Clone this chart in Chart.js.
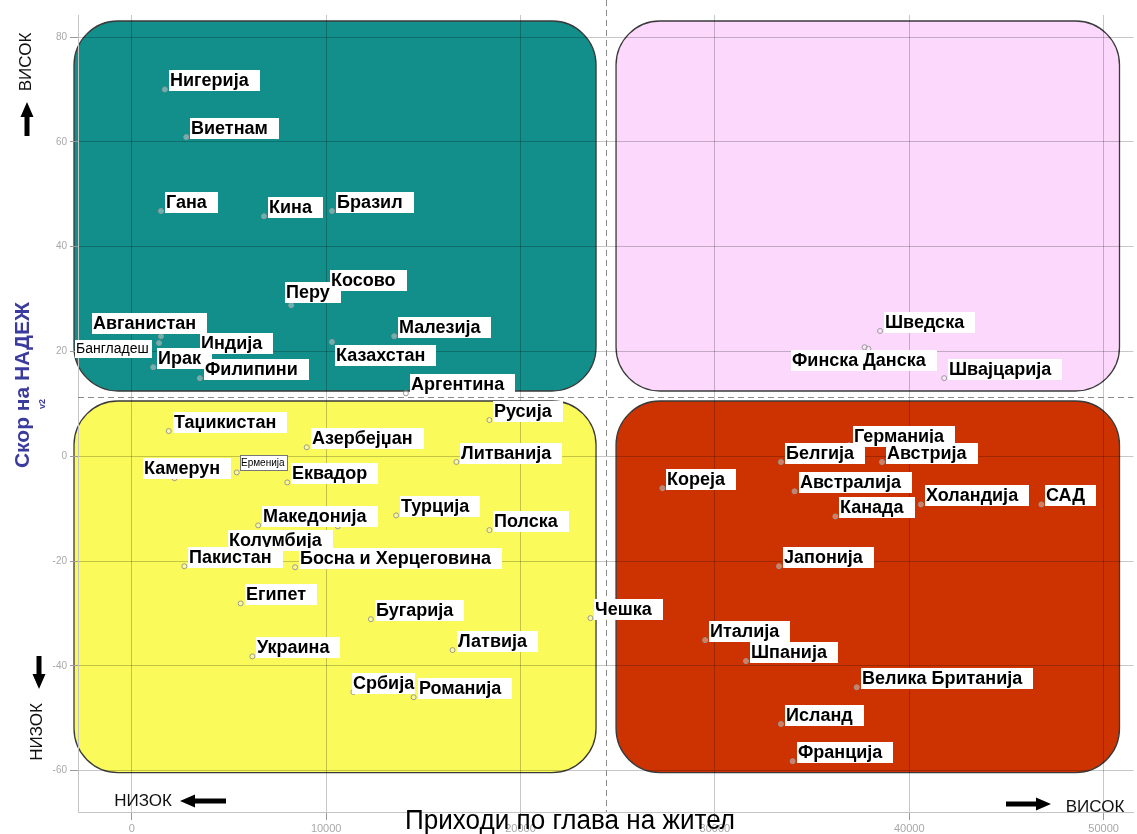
<!DOCTYPE html>
<html><head><meta charset="utf-8">
<script src="https://cdn.jsdelivr.net/npm/chart.js@4/dist/chart.umd.min.js"></script>
<style>html,body{margin:0;padding:0;background:#fff;overflow:hidden}</style>
</head><body>
<canvas id="c" width="1137" height="834"></canvas>
<script>
// ---- data ----
const countries = [
  'Нигерија','Виетнам','Гана','Кина','Бразил','Перу','Косово','Авганистан','Бангладеш','Индија',
  'Ирак','Филипини','Малезија','Казахстан','Аргентина',
  'Шведска','Финска','Данска','Швајцарија',
  'Таџикистан','Азербејџан','Русија','Литванија','Камерун','Ерменија','Еквадор','Турција',
  'Македонија','Колумбија','Полска','Пакистан','Босна и Херцеговина','Египет','Бугарија','Чешка',
  'Украина','Латвија','Србија','Романија',
  'Кореја','Германија','Белгија','Австрија','Австралија','Канада','Холандија','САД','Јапонија',
  'Италија','Шпанија','Велика Британија','Исланд','Франција'
];
const income = [
  1700, 2800, 1500, 6800, 10300, 8200, 10000, 1500, 1400, 3300,
  1100, 3500, 13500, 10300, 14100,
  38500, 37700, 37900, 41800,
  1900, 9000, 18400, 16700, 2200, 5400, 8000, 13600,
  6500, 10600, 18400, 2700, 8400, 5600, 12300, 23600,
  6200, 16500, 11400, 14500,
  27300, 36900, 33400, 38600, 34100, 36200, 40600, 46800, 33300,
  29500, 31600, 37300, 33400, 34000
];
const hope = [
  70.0, 60.9, 46.8, 45.8, 46.8, 28.8, 31.9, 22.9, 21.6, 19.8,
  17.0, 14.9, 22.9, 21.8, 12.0,
  23.9, 20.8, 20.5, 14.9,
  4.8, 1.7, 6.9, -1.1, -4.2, -3.1, -5.0, -11.3,
  -13.2, -13.4, -14.1, -21.0, -21.2, -28.1, -31.1, -30.9,
  -38.2, -37.0, -45.0, -46.0,
  -6.1, 2.1, -1.1, -1.1, -6.7, -11.5, -9.2, -9.2, -21.0,
  -35.1, -39.1, -44.1, -51.1, -58.2
];
const xTicks = [0, 10000, 20000, 30000, 40000, 50000];
const yTicks = [-60, -40, -20, 0, 20, 40, 60, 80];
const xDivider = 24400;
const yDivider = 11.3;
const xTitle = 'Приходи по глава на жител';
const yTitle = 'Скор на НАДЕЖ';
const highText = 'ВИСОК';
const lowText = 'НИЗОК';

// ---- label styling (offset of label box from its point) ----
const labelStyle = {
  'Перу': {off: [-6, -23]},
  'Казахстан': {off: [3, 3]},
  'Авганистан': {off: [-69, -23]},
  'Бангладеш': {off: [-84, -3], h: 18, font: '14px "Liberation Sans", Arial, sans-serif', pad: 4},
  'Камерун': {off: [-32, -20]},
  'Колумбија': {off: [-110, 4]},
  'Финска': {off: [-74, 3], pad: 6},
  'Данска': {off: [-6, 1]},
  'Ерменија': {off: [3, -17], h: 15, font: '10px "Liberation Sans", Arial, sans-serif', pad: 3, border: true},
  'Србија': {off: [-1, -19], pad: 2}
};

const LABEL_FONT = 'bold 18px "Liberation Sans", Arial, sans-serif';

function arrow(ctx, x0, y0, x1, y1, shaft, headW, headL) {
  const ang = Math.atan2(y1 - y0, x1 - x0);
  const len = Math.hypot(x1 - x0, y1 - y0);
  ctx.save();
  ctx.translate(x0, y0);
  ctx.rotate(ang);
  ctx.beginPath();
  ctx.moveTo(0, -shaft / 2);
  ctx.lineTo(len - headL, -shaft / 2);
  ctx.lineTo(len - headL, -headW / 2);
  ctx.lineTo(len, 0);
  ctx.lineTo(len - headL, headW / 2);
  ctx.lineTo(len - headL, shaft / 2);
  ctx.lineTo(0, shaft / 2);
  ctx.closePath();
  ctx.fillStyle = '#000';
  ctx.fill();
  ctx.restore();
}

const quadrantPlugin = {
  id: 'quadrants',
  beforeDraw(chart) {
    const {ctx, chartArea: a, scales: {x, y}} = chart;
    ctx.save();
    ctx.fillStyle = '#fff';
    ctx.fillRect(0, 0, chart.width, chart.height);
    const dx = x.getPixelForValue(xDivider), dy = y.getPixelForValue(yDivider);
    const L = a.left - 4, R = a.right - 14, T = a.top + 6, B = y.getPixelForValue(-60) + 2;
    const boxes = [
      [L, T, dx - 10, dy - 6, '#128e8b'],
      [dx + 10, T, R, dy - 6, '#fcd9fc'],
      [L, dy + 4, dx - 10, B, '#fafa5a'],
      [dx + 10, dy + 4, R, B, '#cc3300']
    ];
    for (const [x0, y0, x1, y1, c] of boxes) {
      ctx.beginPath();
      ctx.roundRect(x0, y0, x1 - x0, y1 - y0, 44);
      ctx.fillStyle = c;
      ctx.fill();
      ctx.lineWidth = 1.3;
      ctx.strokeStyle = '#3a3a3a';
      ctx.stroke();
    }
    ctx.restore();
  },
  beforeDatasetsDraw(chart) {
    const {ctx, chartArea: a, scales: {x, y}} = chart;
    const dx = Math.round(x.getPixelForValue(xDivider)) + 0.5;
    const dy = Math.round(y.getPixelForValue(yDivider)) + 0.5;
    ctx.save();
    ctx.strokeStyle = '#8a8a8a';
    ctx.lineWidth = 1;
    ctx.setLineDash([6, 4]);
    ctx.beginPath();
    ctx.moveTo(dx, 0); ctx.lineTo(dx, a.bottom);
    ctx.moveTo(a.left, dy); ctx.lineTo(a.right, dy);
    ctx.stroke();
    ctx.restore();
  },
  afterDatasetsDraw(chart) {
    const ctx = chart.ctx;
    const meta = chart.getDatasetMeta(0);
    ctx.save();
    meta.data.forEach((pt, i) => {
      const name = countries[i];
      const st = labelStyle[name] || {};
      ctx.font = st.font || LABEL_FONT;
      const w = ctx.measureText(name).width;
      const h = st.h || 21;
      const [ox, oy] = st.off || [4, -19];
      const bx = Math.round(pt.x + ox), by = Math.round(pt.y + oy);
      const bw = Math.round(w + (st.pad !== undefined ? st.pad : 12));
      ctx.fillStyle = '#fff';
      ctx.fillRect(bx, by, bw, h);
      if (st.border) {
        ctx.strokeStyle = '#777';
        ctx.lineWidth = 1;
        ctx.strokeRect(bx + 0.5, by + 0.5, bw, h);
      }
      ctx.fillStyle = '#000';
      ctx.textBaseline = 'alphabetic';
      ctx.textAlign = 'left';
      ctx.fillText(name, bx + 1, by + h - (h > 16 ? 5 : 4));
    });
    ctx.restore();
  },
  afterDraw(chart) {
    const ctx = chart.ctx;
    ctx.save();
    // y axis title
    ctx.save();
    ctx.translate(23, 385);
    ctx.rotate(-Math.PI / 2);
    ctx.font = 'bold 21px "Liberation Sans", Arial, sans-serif';
    ctx.fillStyle = '#3b3b9e';
    ctx.textAlign = 'center';
    ctx.textBaseline = 'middle';
    ctx.fillText(yTitle, 0, 0);
    ctx.restore();
    ctx.save();
    ctx.translate(43, 404);
    ctx.rotate(-Math.PI / 2);
    ctx.font = 'bold 9px "Liberation Sans", Arial, sans-serif';
    ctx.fillStyle = '#3b3b9e';
    ctx.textAlign = 'center';
    ctx.textBaseline = 'middle';
    ctx.fillText('v2', 0, 0);
    ctx.restore();
    // left side high / low
    ctx.font = '17px "Liberation Sans", Arial, sans-serif';
    ctx.fillStyle = '#111';
    ctx.textAlign = 'center';
    ctx.textBaseline = 'middle';
    ctx.save();
    ctx.translate(26, 62); ctx.rotate(-Math.PI / 2);
    ctx.fillText(highText, 0, 0);
    ctx.restore();
    arrow(ctx, 27, 136, 27, 102, 5, 13, 15);
    ctx.save();
    ctx.translate(37, 732); ctx.rotate(-Math.PI / 2);
    ctx.fillText(lowText, 0, 0);
    ctx.restore();
    arrow(ctx, 39, 656, 39, 689, 5, 13, 15);
    // bottom low / high
    ctx.fillText(lowText, 143, 801);
    arrow(ctx, 226, 801, 180, 801, 5, 13, 15);
    arrow(ctx, 1006, 804, 1051, 804, 5, 13, 15);
    ctx.fillText(highText, 1095, 807);
    // x axis title
    ctx.font = '27px "Liberation Sans", Arial, sans-serif';
    const tw = ctx.measureText(xTitle).width;
    ctx.save();
    ctx.translate(570, 829);
    ctx.scale(330 / tw, 1);
    ctx.fillStyle = '#000';
    ctx.textAlign = 'center';
    ctx.textBaseline = 'alphabetic';
    ctx.fillText(xTitle, 0, 0);
    ctx.restore();
    ctx.restore();
  }
};

const points = countries.map((c, i) => ({x: income[i], y: hope[i]}));

new Chart(document.getElementById('c'), {
  type: 'scatter',
  data: {
    datasets: [{
      data: points,
      pointRadius: 2.5,
      pointHoverRadius: 2.5,
      pointBorderWidth: 1,
      borderColor: '#9a9a9a',
      backgroundColor: 'rgba(255,255,255,0.35)'
    }]
  },
  options: {
    responsive: false,
    animation: false,
    events: [],
    layout: {padding: {top: 15, left: 0, right: 0, bottom: 0}},
    plugins: {legend: {display: false}, tooltip: {enabled: false}},
    scales: {
      x: {
        type: 'linear',
        min: -2770, max: 51540,
        afterBuildTicks: s => { s.ticks = xTicks.map(v => ({value: v})); },
        afterFit: s => { s.height = 22; },
        grid: {color: 'rgba(0,0,0,0.22)', tickColor: '#999', tickLength: 8},
        border: {color: '#c4c4c4'},
        ticks: {color: '#a8a8a8', font: {size: 11, family: '"Liberation Sans", Arial'}, padding: 2, maxRotation: 0,
                callback: v => String(v)}
      },
      y: {
        type: 'linear',
        min: -67.9, max: 84.2,
        afterBuildTicks: s => { s.ticks = yTicks.map(v => ({value: v})); },
        afterFit: s => { s.width = 78; },
        grid: {color: 'rgba(0,0,0,0.22)', tickColor: '#999', tickLength: 8},
        border: {color: '#c4c4c4'},
        ticks: {color: '#a8a8a8', font: {size: 10, family: '"Liberation Sans", Arial'}, padding: 3,
                callback: v => String(v)}
      }
    }
  },
  plugins: [quadrantPlugin]
});
</script>
</body></html>
